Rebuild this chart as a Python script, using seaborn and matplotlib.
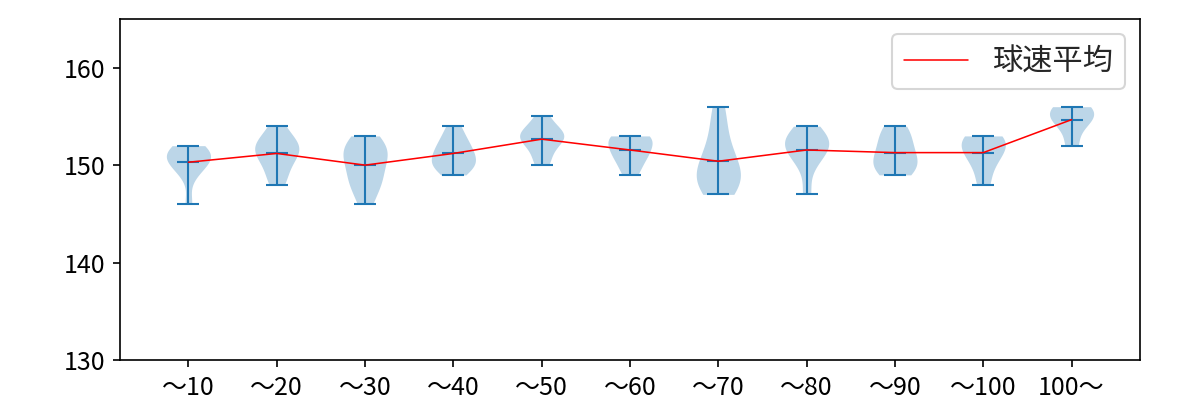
import numpy as np
import pandas as pd
import matplotlib
matplotlib.use("Agg")
import matplotlib.pyplot as plt
import seaborn as sns

categories = ["～10", "～20", "～30", "～40", "～50", "～60", "～70", "～80", "～90", "～100", "100～"]
speeds_10 = [146, 149, 150, 151, 151, 151, 151, 152, 152, 150]
speeds_20 = [148, 149, 150, 151, 151, 152, 152, 152, 153, 154]
speeds_30 = [146, 148, 149, 150, 151, 151, 152, 152, 153, 148]
speeds_40 = [149, 150, 150, 150, 151, 151, 152, 152, 153, 154]
speeds_50 = [150, 151, 152, 153, 153, 153, 153, 154, 155]
speeds_60 = [149, 150, 151, 151, 152, 152, 153, 153, 153]
speeds_70 = [147, 148, 148, 149, 149, 150, 151, 152, 154, 156]
speeds_80 = [147, 150, 151, 152, 152, 152, 153, 153, 154]
speeds_90 = [149, 150, 150, 151, 152, 153, 154]
speeds_100 = [148, 150, 151, 152, 152, 153, 153]
speeds_100p = [152, 154, 155, 155, 156, 156]
all_speeds = [speeds_10, speeds_20, speeds_30, speeds_40, speeds_50, speeds_60,
              speeds_70, speeds_80, speeds_90, speeds_100, speeds_100p]
legend_label = "球速平均"
y_ticks = [130, 140, 150, 160]

df = pd.DataFrame({
    "cat": [c for c, s in zip(categories, all_speeds) for _ in s],
    "speed": [v for s in all_speeds for v in s],
})

sns.set_style("ticks")
plt.rcParams["font.family"] = ["Noto Sans CJK JP", "DejaVu Sans"]

fig, ax = plt.subplots(figsize=(8, 8 / 3), dpi=150)
fig.subplots_adjust(left=0.1, right=0.95, top=0.9525, bottom=0.1)

blue = "#1f77b4"
sns.violinplot(data=df, x="cat", y="speed", order=categories, cut=0, inner=None,
               density_norm="width", width=0.5, color="#bcd6e8", saturation=1,
               linewidth=0, ax=ax)

pos = np.arange(len(categories))
mins = np.array([min(s) for s in all_speeds])
maxs = np.array([max(s) for s in all_speeds])
means = np.array([np.mean(s) for s in all_speeds])
half = 0.125
ax.vlines(pos, mins, maxs, color=blue, lw=1.0)
ax.hlines(mins, pos - half, pos + half, color=blue, lw=1.0)
ax.hlines(maxs, pos - half, pos + half, color=blue, lw=1.0)
ax.hlines(means, pos - half, pos + half, color=blue, lw=1.0)

sns.lineplot(x=pos, y=means, color="red", lw=0.75, label=legend_label, ax=ax)

ax.set_xlim(-0.775, len(categories) - 1 + 0.775)
ax.set_ylim(130, 165)
ax.set_yticks(y_ticks)
ax.set_xlabel("")
ax.set_ylabel("")
for s in ax.spines.values():
    s.set_visible(True)
    s.set_color("black")
    s.set_linewidth(0.8)
ax.tick_params(labelsize=12, color="black", labelcolor="black", length=3.5, width=0.8)
ax.legend(loc="upper right", fontsize=14.5, handlelength=2.1, fancybox=True)

fig.savefig("out.png")
